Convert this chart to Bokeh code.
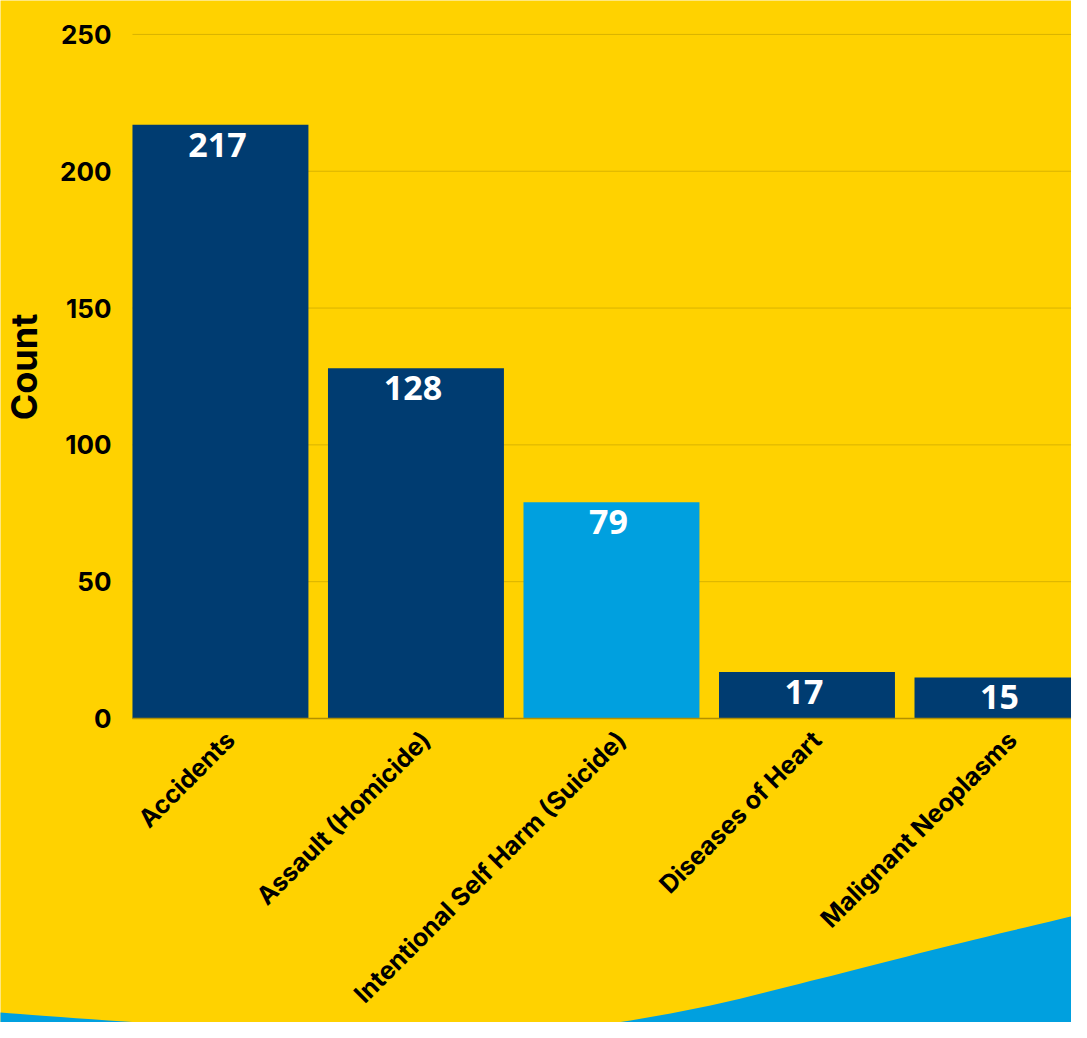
import math
from bokeh.plotting import figure
from bokeh.models import Range1d, FixedTicker, PolyAnnotation, ColumnDataSource
from bokeh.core.properties import value
from bokeh.embed import file_html
from bokeh.resources import INLINE

# ---- data ----
categories = ["Accidents", "Assault (Homicide)", "Intentional Self Harm (Suicide)",
              "Diseases of Heart", "Malignant Neoplasms"]
counts = [217, 128, 79, 17, 15]
highlight = [False, False, True, False, False]
y_ticks = [0, 50, 100, 150, 200, 250]

YELLOW = "#FFD200"
NAVY = "#003C71"
LIGHT = "#00A0DF"
GRID = "#D9B300"

W, H = 1071, 1022
BAR_W = 0.9
X0 = -BAR_W / 2          # left edge of first bar = left end of the axis
X_END = 4.353
p = figure(width=W, height=H, output_backend="svg", toolbar_location=None,
           x_range=Range1d(-1.125, X_END), y_range=Range1d(-111.1, 262.4),
           min_border_left=0, min_border_right=0, min_border_top=0,
           min_border_bottom=0)
p.background_fill_color = YELLOW
p.border_fill_color = YELLOW
p.outline_line_color = None

# decorative wave at the bottom of the page (screen space, y measured from top
# of the picture then flipped), Catmull-Rom smoothed
wave_pts = [(-20, 1007), (0, 1012), (170, 1024), (340, 1034), (460, 1036),
            (580, 1027), (700, 1007), (820, 978), (950, 945), (1087, 912), (1120, 904)]
wx, wy = [], []
for i in range(1, len(wave_pts) - 2):
    p0, p1, p2, p3 = wave_pts[i - 1], wave_pts[i], wave_pts[i + 1], wave_pts[i + 2]
    for k in range(12):
        t = k / 12
        t2, t3 = t * t, t * t * t
        wx.append(0.5 * (2 * p1[0] + (-p0[0] + p2[0]) * t + (2 * p0[0] - 5 * p1[0] + 4 * p2[0] - p3[0]) * t2 + (-p0[0] + 3 * p1[0] - 3 * p2[0] + p3[0]) * t3))
        wy.append(0.5 * (2 * p1[1] + (-p0[1] + p2[1]) * t + (2 * p0[1] - 5 * p1[1] + 4 * p2[1] - p3[1]) * t2 + (-p0[1] + 3 * p1[1] - 3 * p2[1] + p3[1]) * t3))
wx += [wave_pts[-2][0], W + 30, W + 30, -30, -30]
wy += [wave_pts[-2][1], wave_pts[-2][1], H + 30, H + 30, wave_pts[1][1]]
wy = [H - v for v in wy]
p.add_layout(PolyAnnotation(xs=wx, ys=wy, xs_units="screen", ys_units="screen",
                            fill_color=LIGHT, fill_alpha=1, line_color=None,
                            level="underlay"))

# horizontal grid lines, starting at the axis
p.segment(x0=[X0] * len(y_ticks), x1=[X_END] * len(y_ticks), y0=y_ticks, y1=y_ticks,
          line_color=GRID, line_width=1)

xs = list(range(len(categories)))
colors = [LIGHT if h else NAVY for h in highlight]
src = ColumnDataSource(dict(x=xs, top=counts, color=colors,
                            label=[str(c) for c in counts]))
p.vbar(x="x", top="top", width=BAR_W, bottom=0, source=src,
       fill_color="color", line_color=None)
p.text(x="x", y="top", text="label", source=src, text_align="center",
       text_baseline="top", y_offset=8, x_offset=-3, text_color="white",
       text_font=value("Open Sans"), text_font_style="bold",
       text_font_size="34px")

# axes
LABEL_SHIFT = 0.05
tick_pos = [i + LABEL_SHIFT for i in xs]
p.xaxis.fixed_location = 0
p.xaxis.bounds = (X0, 4.45)
p.xaxis.ticker = FixedTicker(ticks=tick_pos)
p.xaxis.major_label_overrides = {t: c for t, c in zip(tick_pos, categories)}
p.xaxis.major_label_orientation = math.pi / 4
p.xaxis.major_label_text_font = "Inter"
p.xaxis.major_label_text_font_style = "bold"
p.xaxis.major_label_text_font_size = "25px"
p.xaxis.major_label_text_color = "black"
p.xaxis.major_label_standoff = 11
p.xaxis.axis_line_color = "#B39000"
p.xaxis.axis_line_width = 1.5
p.xaxis.major_tick_line_color = None
p.xaxis.minor_tick_line_color = None

p.yaxis.fixed_location = X0
p.yaxis.bounds = (0, 257)
p.yaxis.ticker = FixedTicker(ticks=y_ticks)
p.yaxis.axis_label = "Count"
p.yaxis.axis_label_text_font = "Inter"
p.yaxis.axis_label_text_font_style = "bold"
p.yaxis.axis_label_text_font_size = "36px"
p.yaxis.axis_label_text_color = "black"
p.yaxis.axis_label_standoff = 11
p.yaxis.major_label_text_font = "Inter"
p.yaxis.major_label_text_font_style = "bold"
p.yaxis.major_label_text_font_size = "26px"
p.yaxis.major_label_text_color = "black"
p.yaxis.major_label_standoff = 15
p.yaxis.axis_line_color = None
p.yaxis.major_tick_line_color = None
p.yaxis.minor_tick_line_color = None

p.xgrid.grid_line_color = None
p.ygrid.grid_line_color = None

open("out.html", "w").write(file_html(p, INLINE))
